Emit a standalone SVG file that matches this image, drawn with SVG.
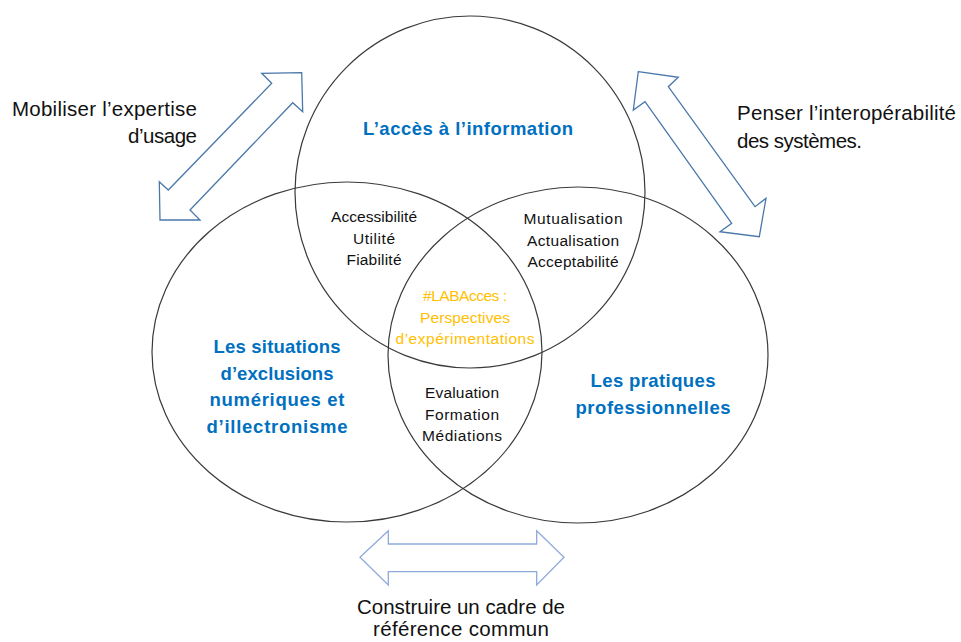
<svg xmlns="http://www.w3.org/2000/svg" width="961" height="642" viewBox="0 0 961 642">
<style>
.circ{fill:none;stroke:#3a3a3a;stroke-width:1.2}
.arr{fill:#fff;stroke:#4a78aa;stroke-width:1.3;stroke-linejoin:miter}
.arr2{fill:#fff;stroke:#8eaadb;stroke-width:1.3}
text{font-family:"Liberation Sans",Arial,sans-serif}
.h{font-weight:bold;fill:#0070c0;font-size:18.5px;text-anchor:middle}
.s{fill:#111;font-size:15.5px;text-anchor:middle}
.o{fill:#ffc000;font-size:15.5px;text-anchor:middle}
.side{fill:#111;font-size:20.5px}
</style>
<rect width="961" height="642" fill="#fff"/>
<g id="connectors">
<polygon class="arr" points="301.7,72.7 302.7,111.7 292.7,102.7 190,210 200,220 160,220 159.3,181.7 168.3,190 271.7,83.3 261.7,73.3"/>
<polygon class="arr" points="638.3,71.7 678.3,77.3 668.3,86.7 755,206.7 766,198.3 759.3,236.7 720,231.7 731.7,223.3 645,101.7 633.3,110"/>
<polygon class="arr2" points="360,557.3 388.3,530.7 388.3,544 536.7,544 536.7,530.7 564,557.3 536.7,585 536.7,571.7 388.3,571.7 388.3,585"/>
</g>
<g id="node-top">
<ellipse class="circ" cx="470" cy="192" rx="175" ry="176"/>
<text class="h" x="468" y="135" textLength="210">L’accès à l’information</text>
</g>
<g id="node-left">
<ellipse class="circ" cx="347" cy="352" rx="195" ry="170"/>
<text class="h" x="277" y="353" textLength="127">Les situations</text>
<text class="h" x="277" y="380" textLength="113">d’exclusions</text>
<text class="h" x="277" y="406" textLength="135">numériques et</text>
<text class="h" x="277" y="433" textLength="141">d’illectronisme</text>
</g>
<g id="node-right">
<ellipse class="circ" cx="578" cy="355" rx="190" ry="168"/>
<text class="h" x="653" y="387" textLength="125">Les pratiques</text>
<text class="h" x="653" y="414" textLength="155">professionnelles</text>
</g>
<g id="node-top-left">
<text class="s" x="374" y="222" textLength="86">Accessibilité</text>
<text class="s" x="374" y="244" textLength="42">Utilité</text>
<text class="s" x="374" y="265" textLength="55">Fiabilité</text>
</g>
<g id="node-top-right">
<text class="s" x="573" y="224" textLength="99">Mutualisation</text>
<text class="s" x="573" y="246" textLength="92">Actualisation</text>
<text class="s" x="573" y="267" textLength="91">Acceptabilité</text>
</g>
<g id="node-center">
<text class="o" x="465" y="301" textLength="84">#LABAcces :</text>
<text class="o" x="465" y="323" textLength="90">Perspectives</text>
<text class="o" x="465" y="344" textLength="139">d’expérimentations</text>
</g>
<g id="node-bottom">
<text class="s" x="462" y="398" textLength="74">Evaluation</text>
<text class="s" x="462" y="420" textLength="74">Formation</text>
<text class="s" x="462" y="441" textLength="80">Médiations</text>
</g>
<g id="label-left">
<text class="side" x="12" y="116" textLength="185">Mobiliser l’expertise</text>
<text class="side" x="197" y="143" text-anchor="end" textLength="69">d’usage</text>
</g>
<g id="label-right">
<text class="side" x="737" y="120" textLength="219">Penser l’interopérabilité</text>
<text class="side" x="737" y="148" textLength="125">des systèmes.</text>
</g>
<g id="label-bottom">
<text class="side" x="461" y="614" text-anchor="middle" textLength="208">Construire un cadre de</text>
<text class="side" x="461" y="636" text-anchor="middle" textLength="176">référence commun</text>
</g>
</svg>
